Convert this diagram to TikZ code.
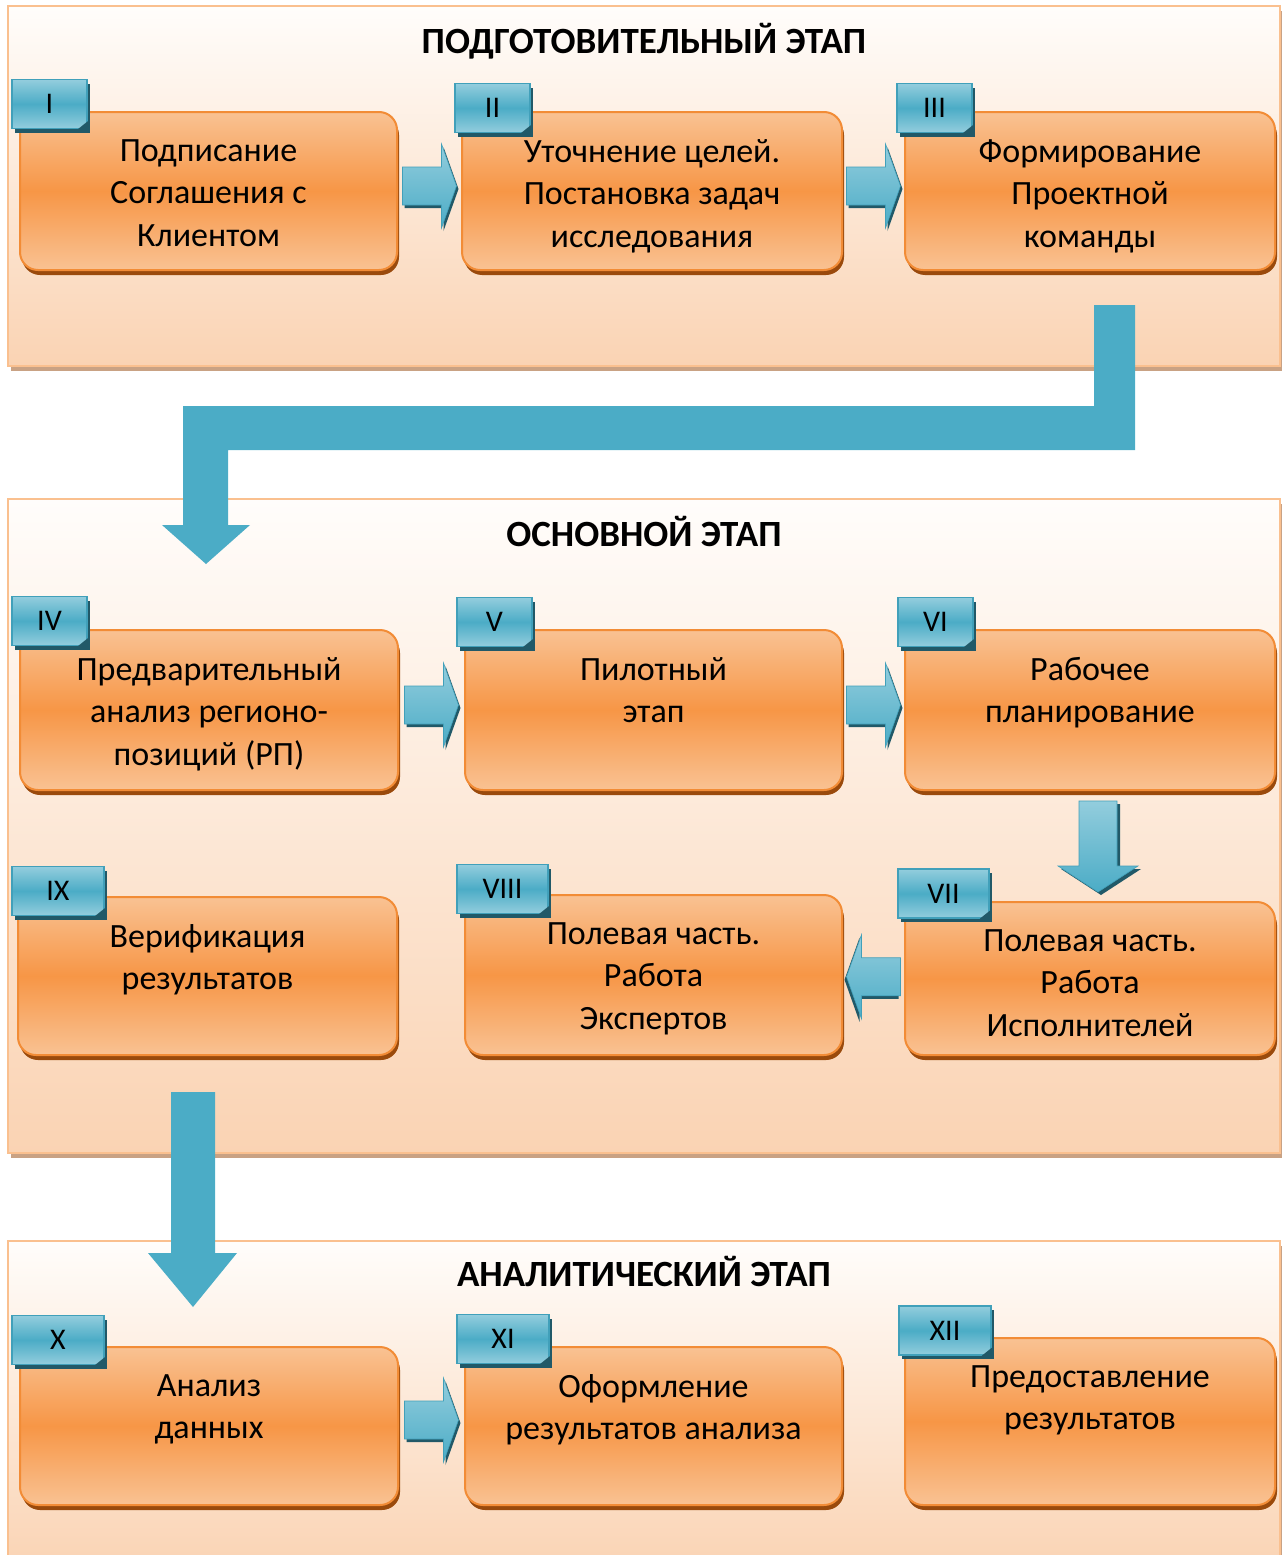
\documentclass[tikz,border=0pt]{standalone}
\usepackage{fontspec}
\setmainfont{Carlito}
\usetikzlibrary{shadows}
\usetikzlibrary{positioning}
\usetikzlibrary{calc}

\definecolor{panelline}{HTML}{FAC08F}
\definecolor{panelhi}{HTML}{FFFDFB}
\definecolor{panello}{HTML}{FAD3B3}
\definecolor{panelshadow}{HTML}{C9A284}
\definecolor{boxhi}{HTML}{F9C293}
\definecolor{boxmid}{HTML}{F79646}
\definecolor{boxline}{HTML}{F28C36}
\definecolor{boxshadow}{HTML}{9A4A0C}
\definecolor{tabhi}{HTML}{93CDDD}
\definecolor{tabmid}{HTML}{4BACC6}
\definecolor{tabline}{HTML}{41A0BA}
\definecolor{tabshadow}{HTML}{215968}
\definecolor{flowblue}{HTML}{4BACC6}

\tikzset{
  panel/.style={draw=panelline, line width=2pt, top color=panelhi, bottom color=panello,
    minimum width=1272pt, inner sep=0pt,
    drop shadow={shadow xshift=3pt, shadow yshift=-5pt, fill=panelshadow, opacity=1}},
  phase/.style={font=\fontsize{37}{42}\selectfont\bfseries, inner sep=0pt, text height=24pt, text depth=0pt},
  stepbox/.style={rounded corners=18pt, draw=boxline, line width=2pt,
    top color=boxhi, bottom color=boxhi, middle color=boxmid, inner sep=0pt,
    drop shadow={shadow xshift=2pt, shadow yshift=-5pt, fill=boxshadow, opacity=1}},
  steptext/.style={font=\fontsize{34}{42.5}\selectfont, align=center, inner sep=0pt,
    execute at begin node=\strut},
  tabbox/.style={draw=tabline, line width=1.5pt, top color=tabhi, bottom color=tabhi,
    middle color=tabmid, minimum height=49pt, inner sep=0pt, font=\fontsize{30}{34}\selectfont,
    drop shadow={shadow xshift=3pt, shadow yshift=-4pt, fill=tabshadow, opacity=1}},
  flowarrow/.style={top color=tabhi, bottom color=tabmid, draw=tabline, line width=0.6pt}
}

% small block arrow pointing right, #2 = its centre
\newcommand{\flowright}[2][]{%
  \begin{scope}[shift={#2}, #1]
    \fill[tabshadow, xshift=2pt, yshift=-3pt] (-27,-19) -- (12,-19) -- (12,-42) -- (27,0) -- (12,42) -- (12,19) -- (-27,19) -- cycle;
    \shade[flowarrow] (-27,-19) -- (12,-19) -- (12,-42) -- (27,0) -- (12,42) -- (12,19) -- (-27,19) -- cycle;
  \end{scope}}

% small block arrow pointing down
\newcommand{\flowdown}[1]{%
  \begin{scope}[shift={#1}]
    \fill[tabshadow, xshift=3pt, yshift=-3pt] (-19,-45) -- (19,-45) -- (19,20) -- (40,20) -- (0,46) -- (-40,20) -- (-19,20) -- cycle;
    \shade[flowarrow] (-19,-45) -- (19,-45) -- (19,20) -- (40,20) -- (0,46) -- (-40,20) -- (-19,20) -- cycle;
  \end{scope}}

\begin{document}
\begin{tikzpicture}[x=1pt, y=-1pt]

	\useasboundingbox (0,0) rectangle (1282,1555);
	\clip (0,0) rectangle (1282,1555);

	% the three stages
	\node[panel, minimum height=360pt] (p1) at (644,186) {};
	\node[panel, minimum height=654pt] (p2) at (644,826) {};
	\node[panel, minimum height=330pt] (p3) at (644,1406) {};

	\node[phase, below=24pt of p1.north] (h1) {ПОДГОТОВИТЕЛЬНЫЙ ЭТАП};
	\node[phase, below=24pt of p2.north] (h2) {ОСНОВНОЙ ЭТАП};
	\node[phase, below=22pt of p3.north] (h3) {АНАЛИТИЧЕСКИЙ ЭТАП};

	% big arrows between the stages
	\coordinate (bendstart) at (1114,305);
	\coordinate (bendtip) at (206,564);
	\fill[flowblue] (1094,305) -- (1135,305) -- (1135,450) -- (228,450) -- (228,525) -- (250,525)
		-- (bendtip) -- (162,525) -- (183,525) -- (183,406) -- (1094,406) -- cycle;

	\coordinate (dropstart) at (193,1092);
	\coordinate (droptip) at (193,1307);
	\fill[flowblue] (171,1092) -- (215,1092) -- (215,1253) -- (237,1253) -- (droptip)
		-- (148,1253) -- (171,1253) -- cycle;

	% steps
	\foreach \name/\cx/\cy/\w/\h in {b1/208.5/191/377/158, b2/652/191/380/158, b3/1090/191/370/158,
		b4/209/710/378/160, b5/653.5/710/377/160, b6/1090/710/370/160,
		b7/1090/978.5/370/153, b8/653.5/975/377/160, b9/207.5/976/379/158,
		b10/209/1426/378/158, b11/653.5/1426/377/158, b12/1090/1421.5/370/167} {
		\node[stepbox, minimum width=\w pt, minimum height=\h pt] (\name) at (\cx,\cy) {};
	}

	\foreach \name/\txt in {b1/{Подписание\\Соглашения с\\Клиентом},
		b2/{Уточнение целей.\\Постановка задач\\исследования},
		b3/{Формирование\\Проектной\\команды},
		b4/{Предварительный\\анализ регионо-\\позиций (РП)},
		b5/{Пилотный\\этап},
		b6/{Рабочее\\планирование},
		b7/{Полевая часть.\\Работа\\Исполнителей},
		b8/{Полевая часть.\\Работа\\Экспертов},
		b9/{Верификация\\результатов},
		b10/{Анализ\\данных},
		b11/{Оформление\\результатов анализа},
		b12/{Предоставление\\результатов}} {
		\node[steptext, below=28pt of \name.north] (\name-t) {\txt};
	}

	% arrows between steps
	\flowright{($(b1.east)!0.5!(b2.west)+(0,-5)$)}
	\flowright{($(b2.east)!0.5!(b3.west)+(0,-5)$)}
	\flowright{($(b4.east)!0.5!(b5.west)+(0,-5)$)}
	\flowright{($(b5.east)!0.5!(b6.west)+(0,-5)$)}
	\flowdown{($(b6.south)!0.5!(b7.north)+(8,0)$)}
	\flowright[xscale=-1]{($(b7.west)!0.5!(b8.east)$)}
	\flowright{($(b10.east)!0.5!(b11.west)+(0,-6)$)}

	% numbered tabs
	\foreach \name/\cx/\cy/\w/\num in {t1/49.5/104/75/I, t2/492.5/108/75/II, t3/934.5/108/75/III,
		t4/49.5/621/75/IV, t5/494.5/622/75/V, t6/935.5/622/75/VI,
		t7/943.5/893.5/91/VII, t8/502.5/889/91/VIII, t9/58/891/92/IX,
		t10/58/1340/92/X, t11/503/1339/92/XI, t12/945/1330.5/92/XII} {
		\node[tabbox, minimum width=\w pt] (\name) at (\cx,\cy) {\num};
		\fill[tabshadow] ([xshift=-10pt]\name.south east) -- (\name.south east) -- ([yshift=8pt]\name.south east) -- cycle;
	}

\end{tikzpicture}
\end{document}
